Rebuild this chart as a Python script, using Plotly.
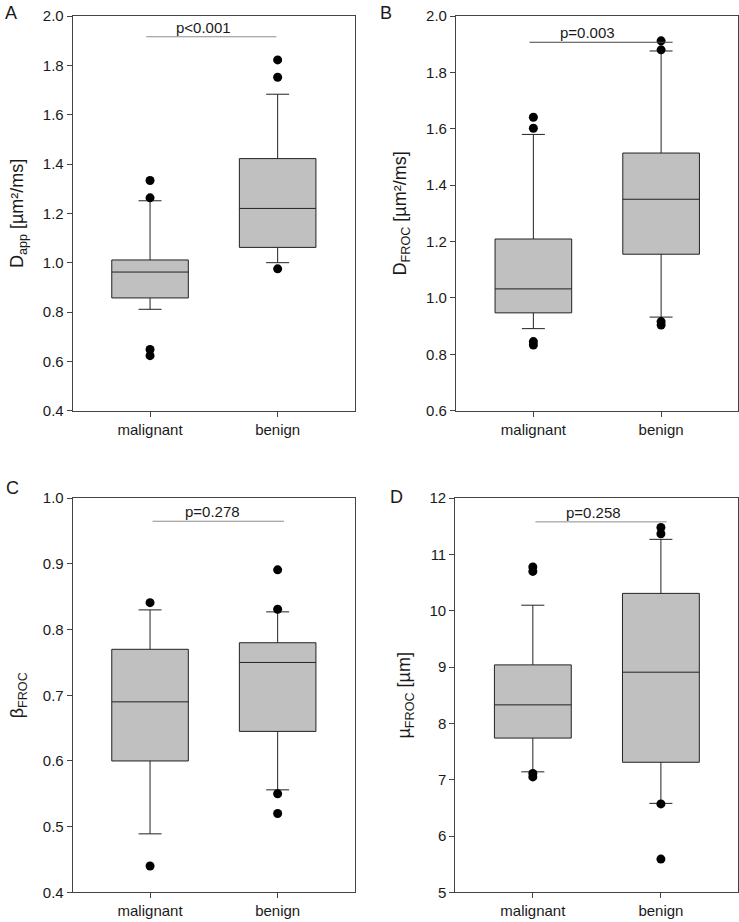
import plotly.graph_objects as go

categories = ["malignant", "benign"]
panels = ["A", "B", "C", "D"]
y_titles = ["D<sub>app</sub> [µm²/ms]", "D<sub>FROC</sub> [µm²/ms]",
            "β<sub>FROC</sub>", "µ<sub>FROC</sub> [µm]"]

# box statistics per panel: [malignant, benign]
q1 = [[0.857, 1.062], [0.947, 1.155], [0.600, 0.645], [7.74, 7.31]]
median = [[0.962, 1.220], [1.032, 1.350], [0.690, 0.750], [8.33, 8.91]]
q3 = [[1.011, 1.422], [1.209, 1.514], [0.770, 0.780], [9.04, 10.31]]
lower_whisker = [[0.811, 1.000], [0.891, 0.932], [0.489, 0.556], [7.14, 6.58]]
upper_whisker = [[1.251, 1.683], [1.580, 1.876], [0.830, 0.827], [10.10, 11.27]]

# outliers per panel: [malignant list, benign list]
outliers = [
    [[1.333, 1.263, 0.648, 0.623], [1.822, 1.752, 0.975]],
    [[1.641, 1.602, 0.845, 0.833], [1.912, 1.880, 0.916, 0.904]],
    [[0.841, 0.440], [0.891, 0.831, 0.550, 0.520]],
    [[10.78, 10.70, 7.11, 7.05], [11.48, 11.37, 6.57, 5.59]],
]

p_texts = ["p<0.001", "p=0.003", "p=0.278", "p=0.258"]
p_bar_y = [1.916, 1.907, 0.965, 11.58]
p_bar_x0 = [-0.03, -0.03, 0.02, 0.02]
p_bar_x1 = [0.99, 1.09, 1.05, 1.045]
p_text_x = [0.42, 0.42, 0.49, 0.47]

y_ranges = [[0.4, 2.0], [0.6, 2.0], [0.4, 1.0], [5, 12]]
y_dticks = [0.2, 0.2, 0.1, 1]
y_formats = [".1f", ".1f", ".1f", "d"]

x_domains = [[0.0984, 0.480], [0.617, 0.999], [0.0984, 0.480], [0.616, 0.999]]
y_domains = [[0.5546, 0.9826], [0.5546, 0.9826], [0.0322, 0.4596], [0.0322, 0.4596]]
p_bar_colors = ["#8c8c8c", "#444444", "#8c8c8c", "#8c8c8c"]
label_pos = [(0.004, 0.999), (0.512, 0.999), (0.006, 0.484), (0.525, 0.474)]

FONT = "Liberation Sans, Arial, sans-serif"
fig = go.Figure()
layout = dict(
    width=739, height=922,
    margin=dict(l=0, r=0, t=0, b=0, autoexpand=False),
    paper_bgcolor="white", plot_bgcolor="white",
    showlegend=False,
    font=dict(family=FONT, size=15, color="#1a1a1a"),
)
annotations = []

for i in range(4):
    n = "" if i == 0 else str(i + 1)
    xa, ya = "x" + n, "y" + n
    for j, cat in enumerate(categories):
        fig.add_trace(go.Box(
            x=[j], q1=[q1[i][j]], median=[median[i][j]], q3=[q3[i][j]],
            lowerfence=[lower_whisker[i][j]], upperfence=[upper_whisker[i][j]],
            width=0.6, whiskerwidth=0.3, boxpoints=False,
            fillcolor="#c0c0c0", line=dict(color="#222222", width=1),
            xaxis=xa, yaxis=ya, hoverinfo="skip",
        ))
        fig.add_trace(go.Scatter(
            x=[j] * len(outliers[i][j]), y=outliers[i][j], mode="markers",
            marker=dict(color="black", size=9),
            xaxis=xa, yaxis=ya, hoverinfo="skip",
        ))
    fig.add_trace(go.Scatter(
        x=[p_bar_x0[i], p_bar_x1[i]], y=[p_bar_y[i], p_bar_y[i]], mode="lines",
        line=dict(color=p_bar_colors[i], width=1),
        xaxis=xa, yaxis=ya, hoverinfo="skip",
    ))
    annotations.append(dict(
        x=p_text_x[i], y=p_bar_y[i], xref=xa, yref=ya, text=p_texts[i],
        showarrow=False, yanchor="bottom", xanchor="center", yshift=-1,
        font=dict(size=15),
    ))
    annotations.append(dict(
        x=label_pos[i][0], y=label_pos[i][1], xref="paper", yref="paper",
        text=panels[i], showarrow=False, xanchor="left", yanchor="top",
        font=dict(size=18),
    ))
    axis_common = dict(showline=True, mirror=True, linecolor="#444444", linewidth=1,
                       ticks="outside", ticklen=5, tickcolor="#444444",
                       showgrid=False, zeroline=False, automargin=False)
    layout["xaxis" + n] = dict(
        domain=x_domains[i], anchor=ya, range=[-0.606, 1.604],
        tickvals=[0, 1], ticktext=categories, **axis_common,
    )
    layout["yaxis" + n] = dict(
        domain=y_domains[i], anchor=xa, range=y_ranges[i],
        dtick=y_dticks[i], tick0=y_ranges[i][0], tickformat=y_formats[i],
        title=dict(text=y_titles[i], standoff=14), **axis_common,
    )

layout["annotations"] = annotations
fig.update_layout(**layout)
fig.write_html(
    "out.html",
    config={"displayModeBar": False, "staticPlot": True},
    post_script="document.body.style.margin='0';document.body.style.overflow='hidden';",
)
